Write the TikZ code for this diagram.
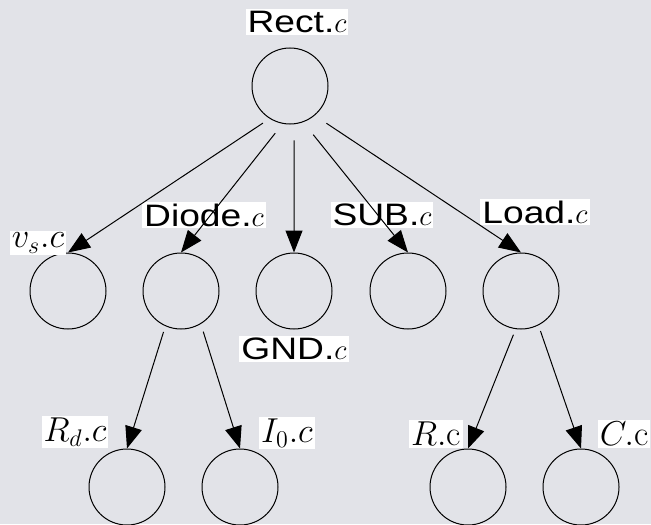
\documentclass[tikz,border=0pt]{standalone}
\usepackage{fontspec}
\newfontfamily\helv[FakeStretch=1.2]{Liberation Sans}
\usetikzlibrary{arrows.meta,positioning}
\definecolor{hgrund}{RGB}{226,227,232}
\tikzset{
    >={Triangle[length=11pt,width=8.5pt]},
    kreis/.style={
           circle,
           draw=black, line width=0.5pt,
           minimum size=38pt,
           inner sep=0pt},
    marke/.style={
           fill=white,
           inner sep=1pt,
           font=\helv\fontsize{15.5}{17}\selectfont},
    formel/.style={
           marke,
           font=\fontsize{17.5}{19}\selectfont},
    pil/.style={
           ->,
           line width=0.5pt,
           shorten <=6pt}
}

\begin{document}
\begin{tikzpicture}[x=0.5pt, y=-0.5pt]
	\fill[hgrund] (0,0) rectangle (651,524);
	\useasboundingbox (0,0) rectangle (651,524);
	% tree of circles
	\node[kreis] (Rect) at (290,86) {};
	\node[kreis] (Vs) at (68,291) {};
	\node[kreis] (Diode) at (181,291) {};
	\node[kreis] (GND) at (294,291) {};
	\node[kreis] (SUB) at (408,291) {};
	\node[kreis] (Load) at (521,291) {};
	\node[kreis] (Rd) at (127,487) {};
	\node[kreis] (Io) at (240,487) {};
	\node[kreis] (R) at (468,487) {};
	\node[kreis] (C) at (581,487) {};
	% labels
	\node[marke] (RectL) at (297,22) {Rect.$c$};
	\node[formel] (VsL) at (38,243) {$v_s.c$};
	\node[marke] (DiodeL) at (204,215) {Diode.$c$};
	\node[marke] (GNDL) at (294,349) {GND.$c$};
	\node[marke] (SUBL) at (382,215) {SUB.$c$};
	\node[marke] (LoadL) at (535,212) {Load.$c$};
	\node[formel] (RdL) at (75,432) {$R_d.c$};
	\node[formel] (IoL) at (287,433) {$I_0.c$};
	\node[formel] (RL) at (436,434) {$R.\mathrm{c}$};
	\node[formel] (CL) at (624,434) {$C.\mathrm{c}$};
	% edges
	\draw[pil, shorten <=4pt] (Rect.238) -- (Vs.north);
	\draw[pil] (Rect.259.5) -- (Diode.north);
	\draw[pil, shorten <=8pt] (Rect.276) -- (GND.north);
	\draw[pil, shorten <=8pt] (Rect.290.5) -- (SUB.north);
	\draw[pil, shorten <=7pt] (Rect.310) -- (Load.north);
	\draw[pil, shorten <=3pt] (Diode.246.5) -- (Rd.north);
	\draw[pil, shorten <=4pt] (Diode.301.4) -- (Io.north);
	\draw[pil, shorten <=3pt] (Load.262) -- (R.north);
	\draw[pil, shorten <=3pt] (Load.297.6) -- (C.north);
\end{tikzpicture}
\end{document}
